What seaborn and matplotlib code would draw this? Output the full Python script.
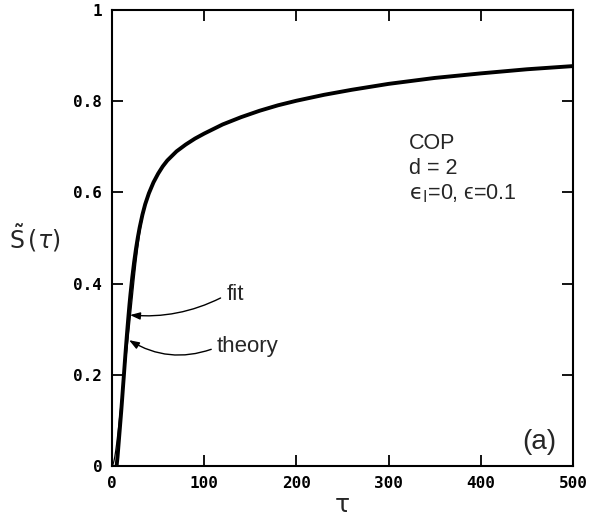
import matplotlib
matplotlib.use("Agg")
import matplotlib.pyplot as plt
import seaborn as sns
import pandas as pd

# ---- data ----
fit_tau = [5, 6, 7, 8, 9, 10, 11, 12, 13, 14, 15, 16, 17, 18, 19, 20, 22, 24, 26, 28,
           30, 33, 36, 40, 45, 50, 55, 60, 70, 80, 90, 100, 120, 140, 160, 180, 200,
           230, 260, 300, 350, 400, 450, 500]
fit_S = [0.0, 0.02, 0.045, 0.07, 0.095, 0.12, 0.147, 0.175, 0.202, 0.23, 0.257, 0.283,
         0.308, 0.332, 0.355, 0.376, 0.414, 0.447, 0.476, 0.501, 0.523, 0.551, 0.574,
         0.598, 0.622, 0.641, 0.657, 0.670, 0.690, 0.705, 0.718, 0.729, 0.749, 0.765,
         0.779, 0.791, 0.801, 0.814, 0.825, 0.838, 0.851, 0.861, 0.870, 0.877]

theory_tau = [0, 1, 2, 3, 4, 5, 6, 7, 8, 9, 10, 11, 12, 13, 14, 15, 16, 17, 18, 19, 20,
              22, 24, 26, 28, 30, 33, 36, 40, 45, 50, 55, 60, 70, 80, 90, 100, 120, 140,
              160, 180, 200, 230, 260, 300, 350, 400, 450, 500]
theory_S = [0.0, 0.003, 0.01, 0.02, 0.033, 0.048, 0.065, 0.083, 0.102, 0.121, 0.14,
            0.158, 0.177, 0.196, 0.215, 0.234, 0.253, 0.272, 0.291, 0.31, 0.33, 0.37,
            0.41, 0.447, 0.48, 0.51, 0.546, 0.572, 0.598, 0.622, 0.641, 0.657, 0.670,
            0.690, 0.705, 0.718, 0.729, 0.749, 0.765, 0.779, 0.791, 0.801, 0.814,
            0.825, 0.838, 0.851, 0.861, 0.870, 0.877]

x_ticks = [0, 100, 200, 300, 400, 500]
x_tick_labels = ["0", "100", "200", "300", "400", "500"]
y_ticks = [0, 0.2, 0.4, 0.6, 0.8, 1.0]
y_tick_labels = ["0", "0.2", "0.4", "0.6", "0.8", "1"]

info_lines = ["COP", "d = 2", r"$\mathrm{ϵ}_{\mathrm{I}}$=0, ϵ=0.1"]

# ---- plotting ----
sns.set_theme(style="ticks")
plt.rcParams["font.family"] = ["Liberation Sans", "DejaVu Sans"]
plt.rcParams["mathtext.fontset"] = "dejavusans"

fig = plt.figure(figsize=(5.9, 5.22), dpi=100)
ax = fig.add_axes([112 / 590, 56 / 522, 461 / 590, 456 / 522])

df_theory = pd.DataFrame({"tau": theory_tau, "S": theory_S})
df_fit = pd.DataFrame({"tau": fit_tau, "S": fit_S})
sns.lineplot(data=df_fit, x="tau", y="S", ax=ax, color="black", lw=2.8)
sns.lineplot(data=df_theory, x="tau", y="S", ax=ax, color="black", lw=0.9)

ax.set_xlim(0, 500)
ax.set_ylim(0, 1)
ax.set_xticks(x_ticks)
ax.set_xticklabels(x_tick_labels)
ax.set_yticks(y_ticks)
ax.set_yticklabels(y_tick_labels)

for s in ax.spines.values():
    s.set_linewidth(1.5)
    s.set_color("black")

ax.tick_params(direction="in", length=8, width=1.3, top=True, right=True,
               colors="black", pad=7)
for lab in ax.get_xticklabels() + ax.get_yticklabels():
    lab.set_family("DejaVu Sans Mono")
    lab.set_fontweight("bold")
    lab.set_fontsize(11.5)

ax.set_xlabel("τ", fontsize=18, family="DejaVu Sans", labelpad=2)
ax.set_ylabel("")
ax.text(-0.168, 0.5, r"$\tilde{\mathrm{S}}\,(\tau)$", transform=ax.transAxes,
        fontsize=17, ha="center", va="center")

# info text
for i, t in enumerate(info_lines):
    ax.text(322, 0.708 - i * 0.055, t, fontsize=15.5, ha="left", va="center")

ax.text(0.965, 0.053, "(a)", transform=ax.transAxes, fontsize=20,
        ha="right", va="center")

arrow_kw = dict(arrowstyle="-|>,head_length=0.5,head_width=0.18", color="black",
                lw=1.0, shrinkA=2, shrinkB=0, mutation_scale=12)
ax.annotate("fit", xy=(19.5, 0.331), xytext=(124, 0.375), fontsize=16,
            ha="left", va="center",
            arrowprops=dict(connectionstyle="arc3,rad=-0.15", relpos=(0, 0.5), **arrow_kw))
ax.annotate("theory", xy=(18.5, 0.276), xytext=(114, 0.263), fontsize=16,
            ha="left", va="center",
            arrowprops=dict(connectionstyle="arc3,rad=-0.25", relpos=(0, 0.45), **arrow_kw))

fig.savefig("out.png", dpi=100, facecolor="white")
